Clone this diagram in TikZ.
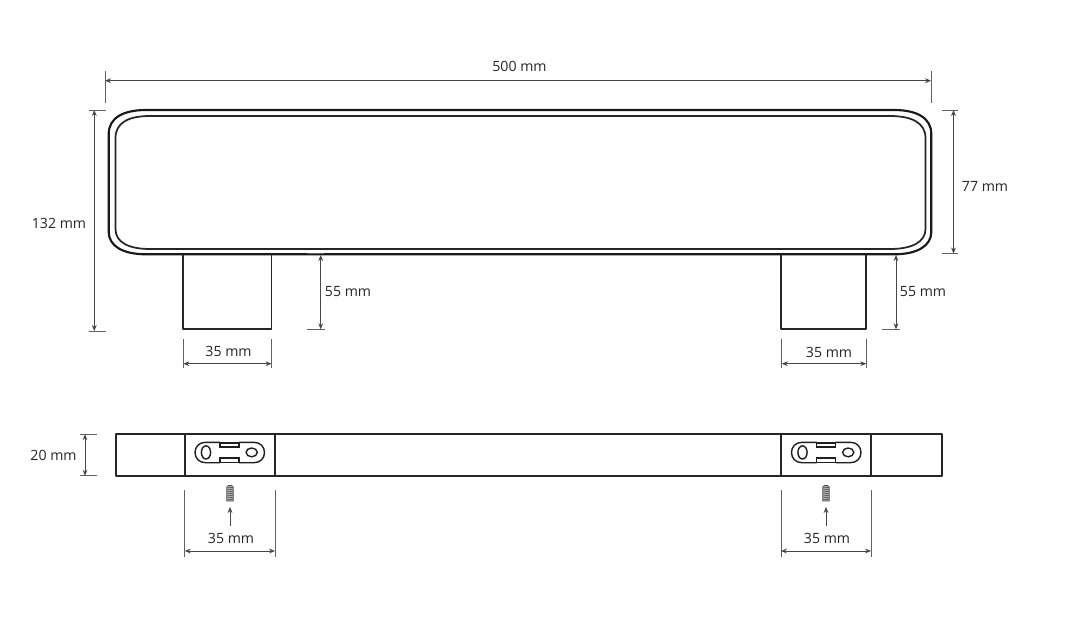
\documentclass[tikz,border=0pt]{standalone}
\usepackage{fontspec}
\setmainfont{Open Sans}
\usetikzlibrary{arrows.meta}
\tikzset{
  part/.style={draw=black!85,line width=1.3pt,line join=round},
  thick part/.style={draw=black!90,line width=1.6pt},
  plate/.style={draw=black!88,line width=1.05pt},
  dim/.style={draw=black!72,line width=0.6pt,{Stealth[length=4.5pt,width=3.6pt]}-{Stealth[length=4.5pt,width=3.6pt]}},
  up/.style={draw=black!72,line width=0.6pt,-{Stealth[length=4.5pt,width=3.6pt]}},
  tick/.style={draw=black!62,line width=0.6pt},
  lbl/.style={font=\fontsize{10.6pt}{12pt}\selectfont,text=black!85,inner sep=0pt},
}
\newcommand{\plateat}[2]{% left x of plate
  \begin{scope}[shift={(#1,0)}]
    \draw[plate] (25,442.3) -- (10.5,442.3) .. controls (4,442.3) and (0,447) .. (0,452.5) .. controls (0,458) and (4,462.7) .. (10.5,462.7) -- (25,462.7);
    \draw[plate] (44,442.3) -- (59,442.3) .. controls (65.5,442.3) and (69.5,447) .. (69.5,452.5) .. controls (69.5,458) and (65.5,462.7) .. (59,462.7) -- (44,462.7);
    \draw[plate] (25,443) rectangle (44,447);
    \draw[plate] (25,458) rectangle (44,462.5);
    \draw[plate] (11,452.4) ellipse [x radius=4.6,y radius=6.6];
    \draw[plate] (56.7,452.4) ellipse [x radius=5.6,y radius=4.4];
  \end{scope}
}
\newcommand{\screwat}[1]{%
  \begin{scope}[shift={(#1,0)}]
    \fill[black!30] (-3.2,486) rectangle (3.2,501);
    \draw[black!70,line width=0.55pt] (-3.2,501) -- (-3.2,487) -- (-1.5,485.5) -- (1.5,485.5) -- (3.2,487) -- (3.2,501) -- cycle;
    \foreach \yy in {488,490,...,500} \draw[black!70,line width=0.45pt] (-3.2,\yy) -- (3.2,\yy-0.8);
  \end{scope}
}
\begin{document}
\begin{tikzpicture}[x=0.75pt,y=-0.75pt]
\useasboundingbox (0,0) rectangle (1076,636);
\fill[white] (0,0) rectangle (1076,636);
% Front view: handle
\draw[thick part] (146,110) -- (894,110) .. controls (917,110) and (931.3,118) .. (931.3,134)
  -- (931.3,232) .. controls (931.3,246) and (917,254.3) .. (894,254.3)
  -- (146,254.3) .. controls (123,254.3) and (108.7,246) .. (108.7,232)
  -- (108.7,134) .. controls (108.7,118) and (123,110) .. (146,110) -- cycle;
\draw[part] (150,116) -- (890,116) .. controls (912,116) and (925.5,123) .. (925.5,138)
  -- (925.5,229) .. controls (925.5,242) and (912,249) .. (890,249)
  -- (150,249) .. controls (128,249) and (115.5,242) .. (115.5,229)
  -- (115.5,138) .. controls (115.5,123) and (128,116) .. (150,116) -- cycle;
% Legs
\draw[part] (183.3,254.3) -- (183.3,329.3) -- (271.6,329.3) -- (271.6,254.3);
\draw[part] (781.2,254.3) -- (781.2,329.3) -- (866.3,329.3) -- (866.3,254.3);
% Top view
\draw[part] (116,434.2) rectangle (942,475.8);
\draw[part] (184.8,434.2) -- (184.8,475.8);
\draw[part] (275,434.2) -- (275,475.8);
\draw[part] (781,434.2) -- (781,475.8);
\draw[part] (871,434.2) -- (871,475.8);
\plateat{195}{}
\plateat{791.5}{}
\screwat{230}
\screwat{826}
\coordinate (uL0) at (230,526); \coordinate (uL1) at (230,507);
\coordinate (uR0) at (826,526); \coordinate (uR1) at (826,507);
\draw[up] (uL0) -- (uL1);
\draw[up] (uR0) -- (uR1);
% 500 mm
\coordinate (a1) at (105,80.7); \coordinate (a2) at (931,80.7);
\draw[tick] (105,71) -- (105,103); \draw[tick] (931,71) -- (931,103);
\draw[dim] (a1) -- (a2);
% 132 mm
\coordinate (b1) at (94.3,110); \coordinate (b2) at (94.3,331);
\draw[tick] (89,110) -- (106,110); \draw[tick] (89,331) -- (106,331);
\draw[dim] (b1) -- (b2);
% 77 mm
\coordinate (c1) at (953.5,110); \coordinate (c2) at (953.5,253.5);
\draw[tick] (941.7,110) -- (957.5,110); \draw[tick] (941.7,253.5) -- (957.5,253.5);
\draw[dim] (c1) -- (c2);
% 55 mm left
\coordinate (d1) at (320.7,255); \coordinate (d2) at (320.7,329.3);
\draw[tick] (307,253.8) -- (324,253.8); \draw[tick] (307,329.3) -- (325,329.3);
\draw[dim] (d1) -- (d2);
% 55 mm right
\coordinate (e1) at (896,255); \coordinate (e2) at (896,329.3);
\draw[tick] (882,329.3) -- (900,329.3);
\draw[dim] (e1) -- (e2);
% 35 mm legs
\coordinate (f1) at (183.3,363.7); \coordinate (f2) at (271.6,363.7);
\draw[tick] (183.3,339) -- (183.3,367.5); \draw[tick] (271.6,339) -- (271.6,367.5);
\draw[dim] (f1) -- (f2);
\coordinate (g1) at (781.8,363.7); \coordinate (g2) at (866.3,363.7);
\draw[tick] (781.8,339) -- (781.8,367.5); \draw[tick] (866.3,339) -- (866.3,367.5);
\draw[dim] (g1) -- (g2);
% 20 mm
\coordinate (h1) at (85,434.2); \coordinate (h2) at (85,475.8);
\draw[tick] (80,434.2) -- (96.5,434.2); \draw[tick] (80,475.8) -- (96.5,475.8);
\draw[dim] (h1) -- (h2);
% 35 mm bottom
\coordinate (i1) at (184.8,551); \coordinate (i2) at (275,551);
\draw[tick] (184.8,490) -- (184.8,557); \draw[tick] (275,490) -- (275,557);
\draw[dim] (i1) -- (i2);
\coordinate (j1) at (781,551); \coordinate (j2) at (871,551);
\draw[tick] (781,490) -- (781,557); \draw[tick] (871,490) -- (871,557);
\draw[dim] (j1) -- (j2);
% Labels
\node[lbl] (l500) at (519.5,66) {500 mm};
\node[lbl] (l132) at (59,223.5) {132 mm};
\node[lbl] (l77) at (985,186.5) {77 mm};
\node[lbl] (l55a) at (348,291.5) {55 mm};
\node[lbl] (l55b) at (923,291.5) {55 mm};
\node[lbl] (l35a) at (228.5,351.5) {35 mm};
\node[lbl] (l35b) at (829,352.5) {35 mm};
\node[lbl] (l20) at (53.5,455.5) {20 mm};
\node[lbl] (l35c) at (231,538.5) {35 mm};
\node[lbl] (l35d) at (827,538.5) {35 mm};
\end{tikzpicture}
\end{document}
